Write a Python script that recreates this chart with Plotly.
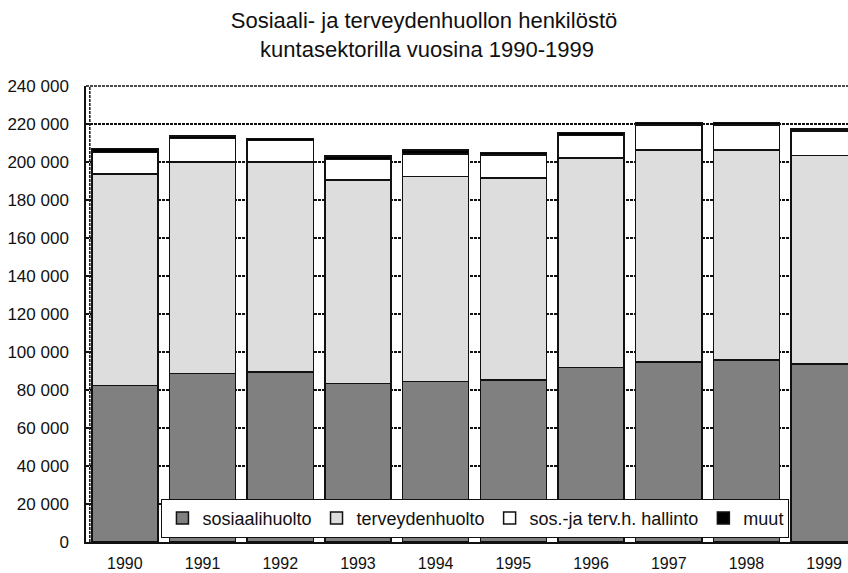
import plotly.graph_objects as go

years = ["1990", "1991", "1992", "1993", "1994", "1995", "1996", "1997", "1998", "1999"]
sosiaalihuolto = [82300, 88600, 89600, 83500, 84500, 85300, 91900, 94700, 95800, 93700]
terveydenhuolto = [111300, 111400, 110300, 107100, 107800, 106200, 110100, 111500, 110400, 109600]
hallinto = [11500, 12300, 11300, 10800, 11900, 12200, 11900, 13300, 13300, 13000]
muut = [1900, 1400, 1300, 1800, 2100, 1400, 1700, 1400, 1400, 1100]

series_names = ["sosiaalihuolto", "terveydenhuolto", "sos.-ja terv.h. hallinto", "muut"]
series_colors = ["#808080", "#dddddd", "#ffffff", "#000000"]
y_tickvals = [0, 20000, 40000, 60000, 80000, 100000, 120000, 140000, 160000, 180000, 200000, 220000, 240000]
y_ticktext = ["0", "20 000", "40 000", "60 000", "80 000", "100 000", "120 000", "140 000",
              "160 000", "180 000", "200 000", "220 000", "240 000"]

FONT = "Arial, Liberation Sans, sans-serif"

fig = go.Figure()
for name, vals, col in zip(series_names, [sosiaalihuolto, terveydenhuolto, hallinto, muut], series_colors):
    fig.add_trace(go.Bar(
        x=years, y=vals, name=name,
        marker=dict(color=col, line=dict(color="#111111", width=1.5)),
    ))

fig.update_layout(
    width=848, height=573,
    barmode="stack", bargap=0.15,
    margin=dict(l=86, r=0, t=86, b=31),
    paper_bgcolor="white", plot_bgcolor="white",
    font=dict(family=FONT, size=16, color="#111111"),
    title=dict(
        text="Sosiaali- ja terveydenhuollon henkilöstö<br> kuntasektorilla vuosina 1990-1999",
        x=0.5, xanchor="center", y=0.951, yanchor="top", yref="container",
        font=dict(family=FONT, size=22, color="#111111"),
    ),
    xaxis=dict(
        type="category", range=[-0.5, 9.307], showgrid=False,
        showline=True, linecolor="#111111", linewidth=2,
        ticks="", tickfont=dict(size=16), ticklabelstandoff=6,
    ),
    yaxis=dict(
        range=[0, 240000], tickvals=y_tickvals, ticktext=y_ticktext,
        showgrid=True, gridcolor="#111111", gridwidth=1.5, griddash="3px,1px",
        zeroline=False, showline=True, linecolor="#111111", linewidth=1.5,
        ticks="", tickfont=dict(size=17), ticklabelstandoff=12,
    ),
    legend=dict(
        orientation="h", x=0.099, xanchor="left", y=0.095, yanchor="top",
        bgcolor="white", bordercolor="#111111", borderwidth=1,
        font=dict(family=FONT, size=18, color="#111111"),
        itemclick=False, traceorder="normal",
    ),
    shapes=[
        dict(type="line", xref="paper", yref="paper", x0=0.005, x1=0.005, y0=0, y1=1,
             line=dict(color="#111111", width=1.5, dash="3px,1px"), layer="above"),
        dict(type="line", xref="paper", yref="paper", x0=0, x1=1, y0=1, y1=1,
             line=dict(color="#111111", width=1.5, dash="3px,1px"), layer="above"),
    ],
)

fig.write_html("out.html")
